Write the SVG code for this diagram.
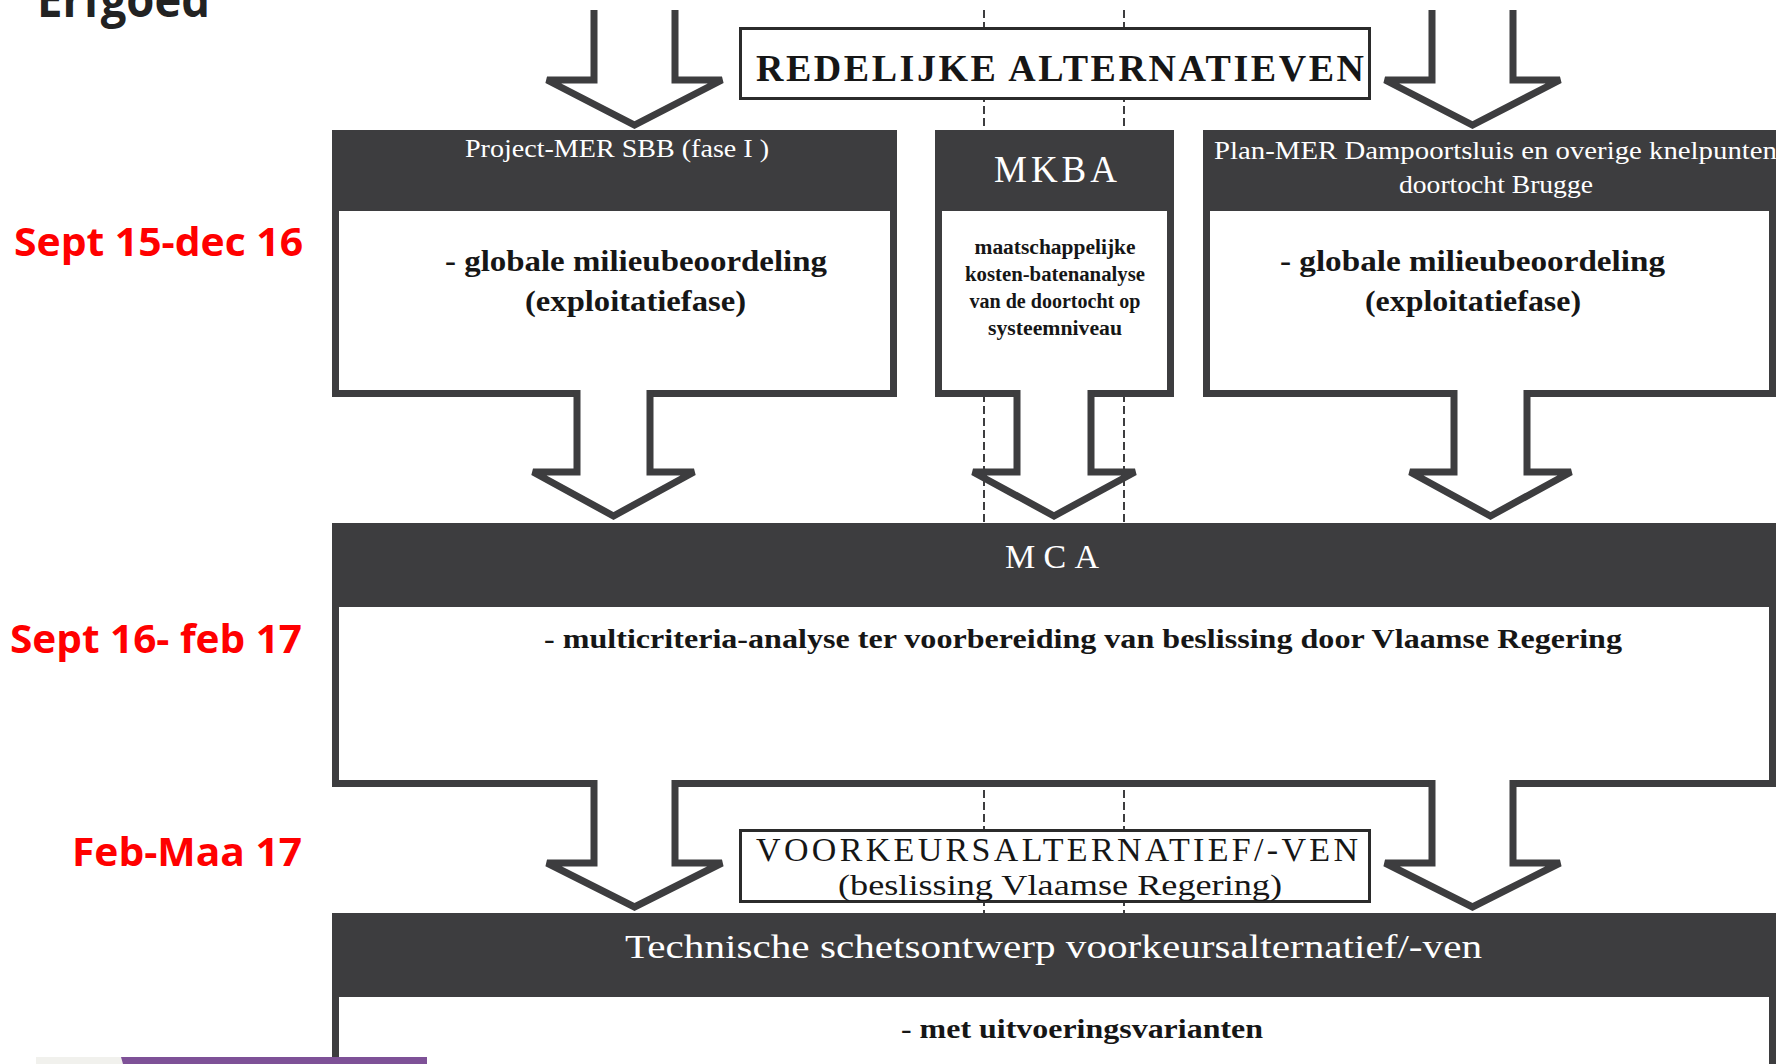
<svg xmlns="http://www.w3.org/2000/svg" width="1789" height="1064" viewBox="0 0 1789 1064">
<defs>
<style>
.frame{fill:#3d3d3f}
.body{fill:#ffffff}
.arrow{fill:#ffffff;stroke:#3d3d3f;stroke-width:7;stroke-linejoin:miter}
.dash{fill:none;stroke:#3d3d3f;stroke-width:2;stroke-dasharray:8 4}
.lbl{fill:#ffffff;stroke:#2b2b2b;stroke-width:3}
.serif{font-family:"Liberation Serif","Times New Roman",serif}
.hdr{fill:#ffffff}
.txt{fill:#161616}
.red{font-family:"Open Sans","Liberation Sans",Arial,sans-serif;font-weight:700;fill:#ff0000;font-size:40px}
</style>
</defs>
<rect width="1789" height="1064" fill="#ffffff"/>

<g id="title">
<text x="37" y="17" font-family="'Open Sans','Liberation Sans',Arial,sans-serif" font-weight="700" font-size="50" fill="#222222" textLength="173" lengthAdjust="spacingAndGlyphs">Erfgoed</text>
</g>

<g id="timeline">
<text class="red" x="14" y="256" textLength="289" lengthAdjust="spacingAndGlyphs">Sept 15-dec 16</text>
<text class="red" x="10" y="653" textLength="292" lengthAdjust="spacingAndGlyphs">Sept 16- feb 17</text>
<text class="red" x="72" y="866" textLength="230" lengthAdjust="spacingAndGlyphs">Feb-Maa 17</text>
</g>

<g id="guides">
<line class="dash" x1="984" y1="10" x2="984" y2="913"/>
<line class="dash" x1="1124" y1="10" x2="1124" y2="913"/>
</g>

<g id="redelijke">
<rect class="lbl" x="740.5" y="28.5" width="629" height="70"/>
<text class="serif txt" x="756" y="81" font-size="38" font-weight="700" textLength="608" lengthAdjust="spacing">REDELIJKE ALTERNATIEVEN</text>
</g>

<g id="project-mer">
<rect class="frame" x="332" y="130" width="565" height="267"/>
<rect class="body" x="339" y="211" width="551" height="179"/>
<text class="serif hdr" x="465" y="157" font-size="25" textLength="304" lengthAdjust="spacingAndGlyphs">Project-MER SBB (fase I )</text>
<text class="serif txt" x="445" y="271" font-size="30" font-weight="700" textLength="382" lengthAdjust="spacingAndGlyphs">- globale milieubeoordeling</text>
<text class="serif txt" x="525" y="311" font-size="30" font-weight="700" textLength="221" lengthAdjust="spacingAndGlyphs">(exploitatiefase)</text>
</g>

<g id="mkba">
<rect class="frame" x="935" y="130" width="239" height="267"/>
<rect class="body" x="942" y="211" width="225" height="179"/>
<text class="serif hdr" x="994" y="182" font-size="37" textLength="123" lengthAdjust="spacing">MKBA</text>
<text class="serif txt" x="974.5" y="254" font-size="20" font-weight="700" textLength="161" lengthAdjust="spacingAndGlyphs">maatschappelijke</text>
<text class="serif txt" x="965" y="281" font-size="20" font-weight="700" textLength="180" lengthAdjust="spacingAndGlyphs">kosten-batenanalyse</text>
<text class="serif txt" x="969.5" y="308" font-size="20" font-weight="700" textLength="171" lengthAdjust="spacingAndGlyphs">van de doortocht op</text>
<text class="serif txt" x="988" y="335" font-size="20" font-weight="700" textLength="134" lengthAdjust="spacingAndGlyphs">systeemniveau</text>
</g>

<g id="plan-mer">
<rect class="frame" x="1203" y="130" width="573" height="267"/>
<rect class="body" x="1210" y="211" width="559" height="179"/>
<text class="serif hdr" x="1214" y="159" font-size="25" textLength="563" lengthAdjust="spacingAndGlyphs">Plan-MER Dampoortsluis en overige knelpunten</text>
<text class="serif hdr" x="1399" y="193" font-size="25" textLength="194" lengthAdjust="spacingAndGlyphs">doortocht Brugge</text>
<text class="serif txt" x="1280" y="271" font-size="30" font-weight="700" textLength="385" lengthAdjust="spacingAndGlyphs">- globale milieubeoordeling</text>
<text class="serif txt" x="1365" y="311" font-size="30" font-weight="700" textLength="216" lengthAdjust="spacingAndGlyphs">(exploitatiefase)</text>
</g>

<g id="mca">
<rect class="frame" x="332" y="523" width="1444" height="264"/>
<rect class="body" x="339" y="607" width="1430" height="173"/>
<text class="serif hdr" x="1005" y="568" font-size="34" textLength="94" lengthAdjust="spacing">MCA</text>
<text class="serif txt" x="544" y="648" font-size="28" font-weight="700" textLength="1078" lengthAdjust="spacingAndGlyphs">- multicriteria-analyse ter voorbereiding van beslissing door Vlaamse Regering</text>
</g>

<g id="voorkeur">
<rect class="lbl" x="740.5" y="830.5" width="629" height="71"/>
<text class="serif txt" x="756" y="861" font-size="34" textLength="602" lengthAdjust="spacing">VOORKEURSALTERNATIEF/-VEN</text>
<text class="serif txt" x="838" y="895" font-size="29" textLength="444" lengthAdjust="spacingAndGlyphs">(beslissing Vlaamse Regering)</text>
</g>

<g id="technisch">
<rect class="frame" x="332" y="913" width="1444" height="160"/>
<rect class="body" x="339" y="997" width="1430" height="80"/>
<text class="serif hdr" x="625" y="958" font-size="34" textLength="857" lengthAdjust="spacingAndGlyphs">Technische schetsontwerp voorkeursalternatief/-ven</text>
<text class="serif txt" x="901" y="1038" font-size="28" font-weight="700" textLength="362" lengthAdjust="spacingAndGlyphs">- met uitvoeringsvarianten</text>
</g>

<g id="connectors">
<path class="arrow" d="M594,10 V80 H547 L634.5,125 L722,80 H675 V10"/>
<path class="arrow" d="M1432,10 V80 H1385 L1472.5,125 L1560,80 H1513 V10"/>
<path class="arrow" d="M577,390 V472 H533 L613.5,516 L694,472 H650 V390"/>
<path class="arrow" d="M1017,390 V472 H973 L1054,516 L1135,472 H1091 V390"/>
<path class="arrow" d="M1454,390 V472 H1410 L1490.5,516 L1571,472 H1527 V390"/>
<path class="arrow" d="M594,780 V863 H547 L634.5,907 L722,863 H675 V780"/>
<path class="arrow" d="M1432,780 V863 H1385 L1472.5,907 L1560,863 H1513 V780"/>
</g>

<g id="footer">
<rect x="36" y="1057" width="87" height="7" fill="#f1f1ed"/>
<polygon points="121,1057 427,1057 427,1064 123,1064" fill="#7e5197"/>
</g>
</svg>
